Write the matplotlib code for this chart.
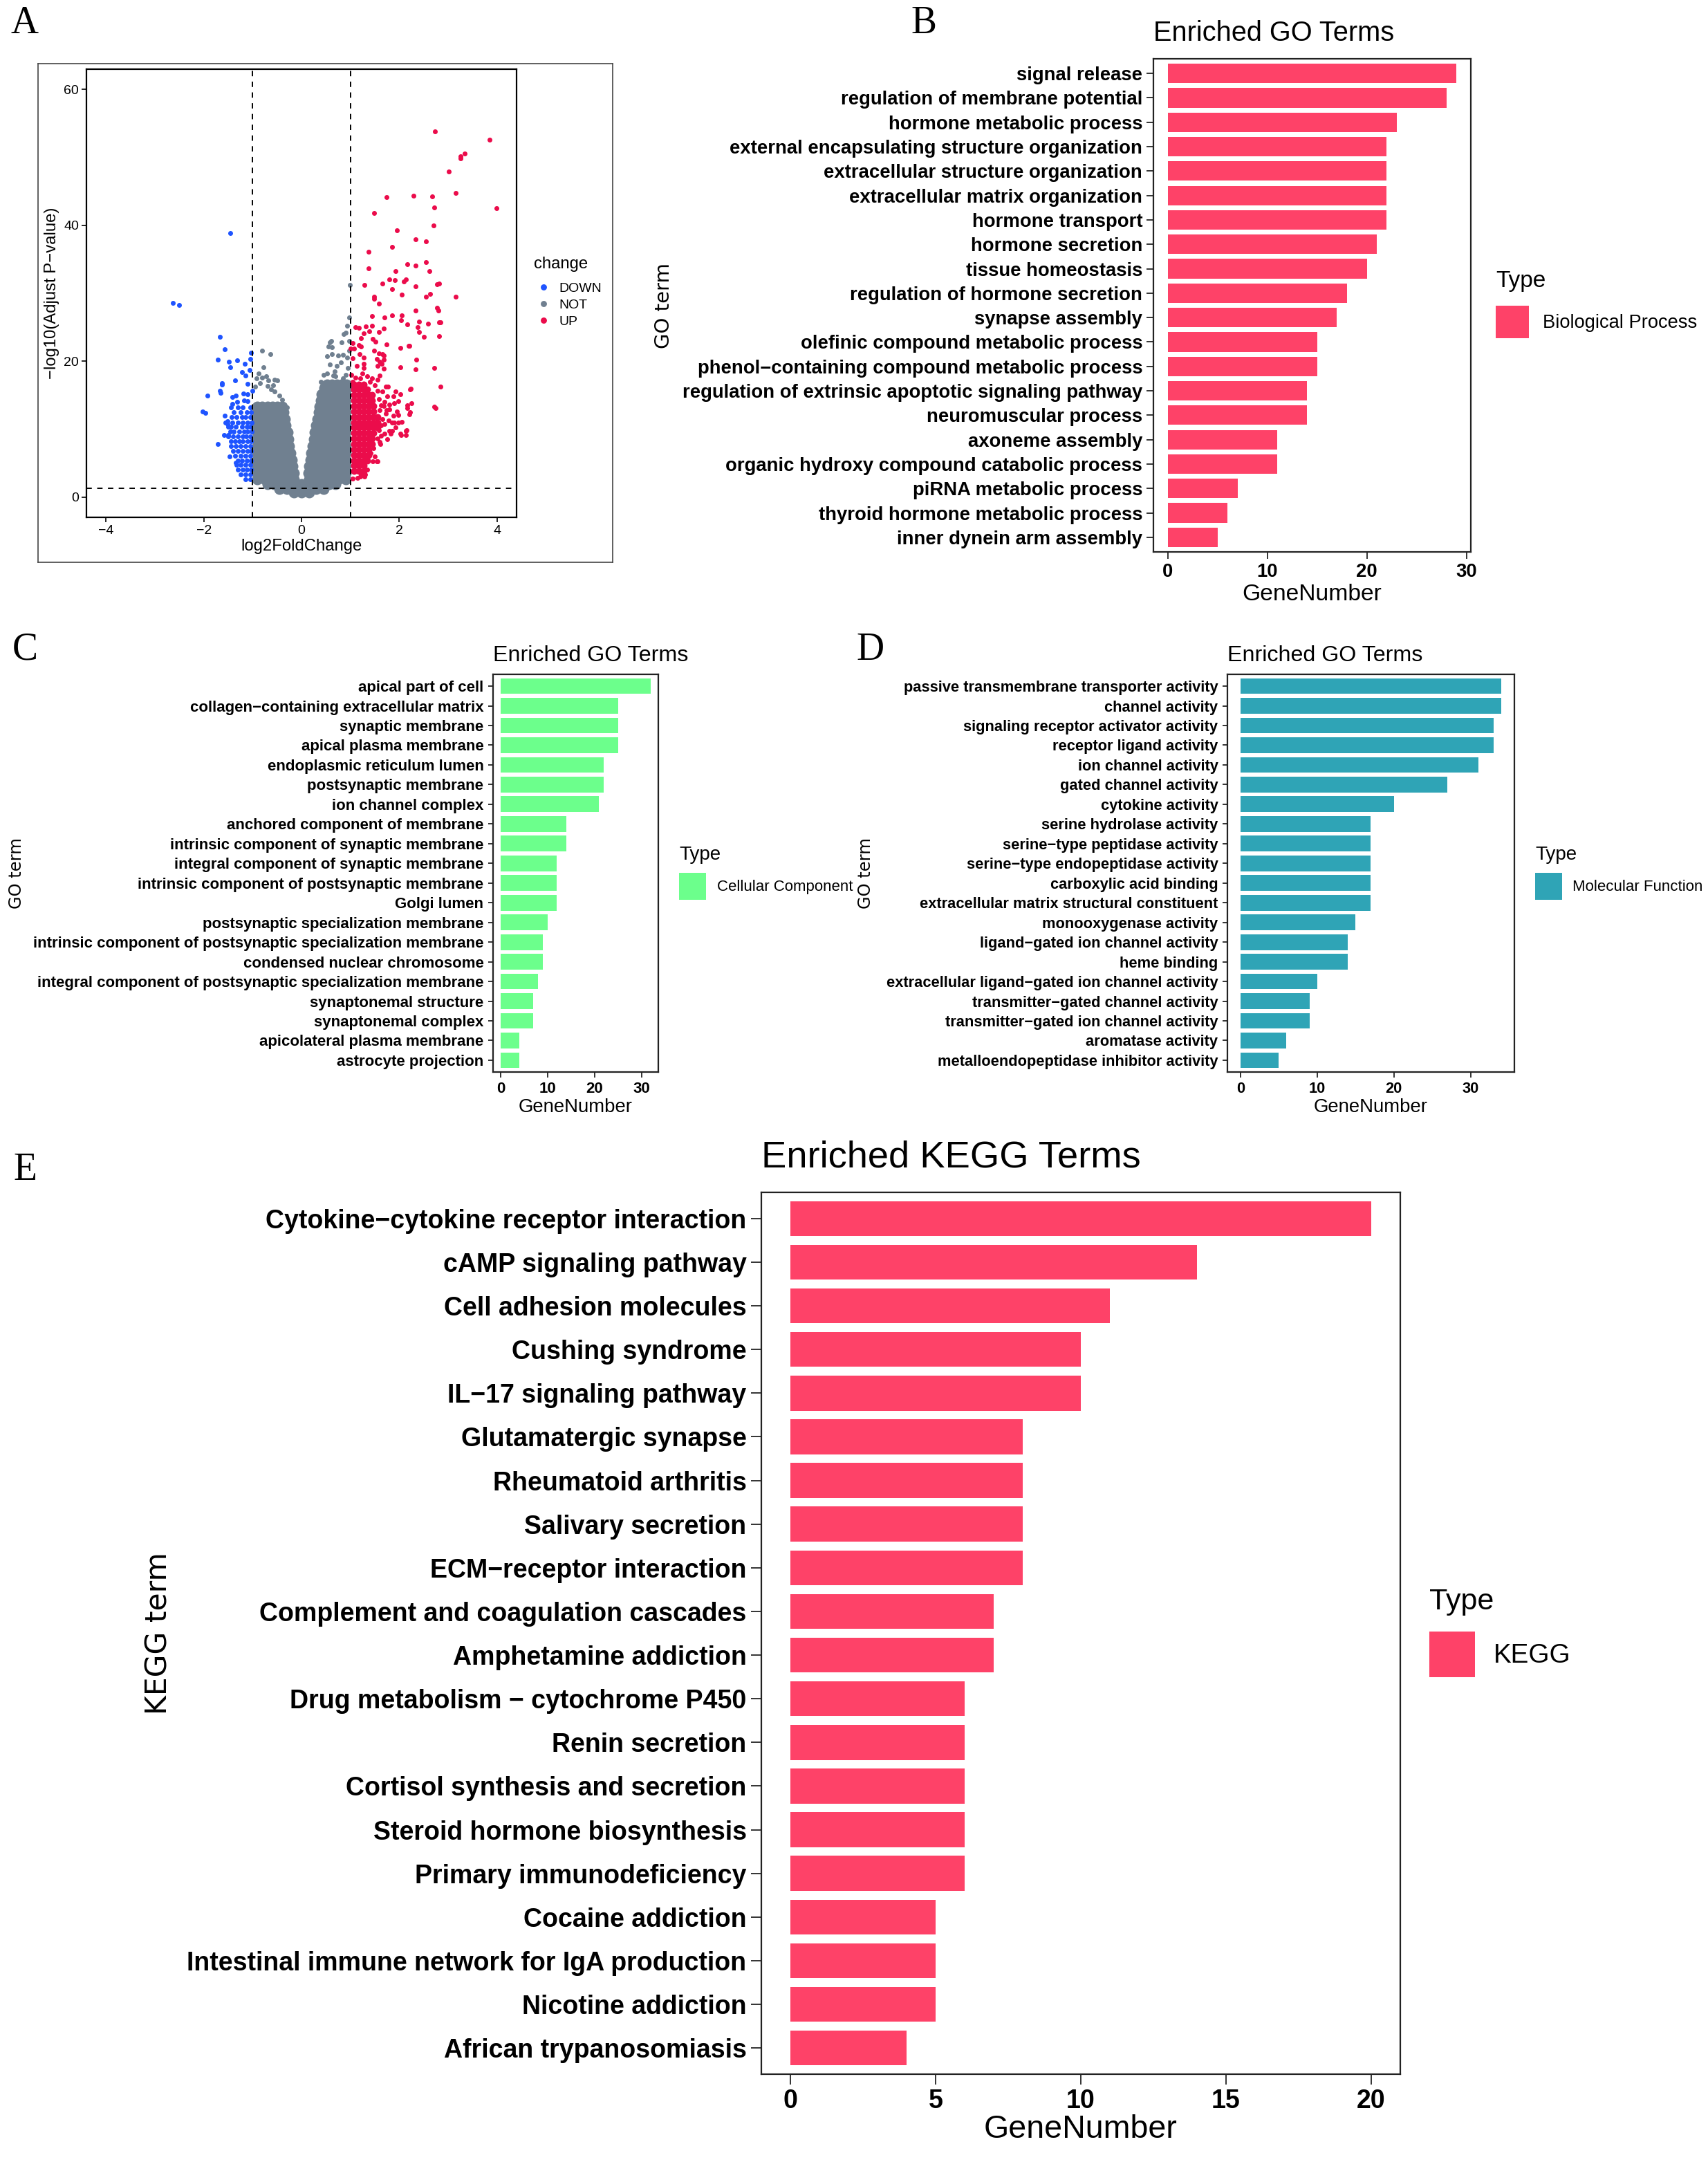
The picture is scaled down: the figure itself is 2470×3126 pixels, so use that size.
import numpy as np
import matplotlib
matplotlib.use("Agg")
import matplotlib.pyplot as plt
from matplotlib.patches import Patch
from matplotlib.lines import Line2D

plt.rcParams['font.family'] = ['Liberation Sans', 'DejaVu Sans']
plt.rcParams['axes.unicode_minus'] = True

# ---------------- DATA ----------------
# Panel A: volcano plot
up_x = [2.73, 3.85, 3.34, 3.25, 3.25, 3.02, 3.16, 1.74, 2.29, 2.68, 2.71, 3.99, 1.48, 2.70, 1.95, 2.34, 2.54,
        1.85, 1.37, 1.37, 2.16, 2.33, 2.54, 2.62, 1.93, 1.79, 1.91, 2.10, 2.13, 1.29, 1.65, 1.85, 2.33, 2.77,
        2.82, 2.05, 1.48, 1.49, 1.58, 2.55, 2.63, 3.16, 2.33, 2.78, 2.80, 1.44, 1.70, 1.86, 2.05, 2.04, 2.16,
        2.40, 2.38, 2.40, 2.59, 2.81, 2.84, 1.11, 1.17, 1.32, 1.45, 1.58, 1.69, 1.39, 1.28, 2.50, 2.81, 1.22,
        1.46, 1.51, 1.74, 1.05, 1.18, 1.21, 2.20, 2.02, 1.00, 1.07, 1.49, 1.58, 1.65, 1.69, 1.28, 1.19, 1.05,
        2.35, 1.54, 1.60, 1.68, 1.64, 1.56, 1.68, 2.02, 2.34, 2.72, 1.13, 1.28, 1.27, 2.85, 2.23, 2.74, 2.16,
        2.25, 2.14, 2.04, 2.14, 2.21, 1.54, 1.61, 1.82, 1.20, 1.29, 1.98, 1.90, 1.85, 2.15, 2.03, 1.60, 1.80,
        1.46, 1.55, 1.22, 2.22, 2.16, 2.72, 2.19, 2.22,
        1.05, 1.15, 1.30, 1.35, 1.42, 1.50, 1.47, 1.55, 1.62, 1.70, 1.75, 1.58, 1.62, 1.70, 1.78, 1.65, 1.88,
        1.72, 1.60, 1.80, 1.62, 1.70, 1.58, 1.75, 1.55, 1.65, 1.72, 1.50, 1.40, 1.45, 1.55, 1.60, 1.35, 1.20,
        1.10, 1.25, 1.02, 1.05, 1.90, 1.95, 1.98, 2.05, 1.92, 1.85, 1.77, 1.93, 2.03, 1.98, 1.88, 1.79, 1.74,
        1.69]
up_y = [53.8, 52.6, 50.6, 50.2, 49.9, 47.9, 44.8, 44.2, 44.4, 44.3, 42.6, 42.5, 41.8, 40.0, 39.3, 37.9, 37.6,
        36.8, 36.1, 33.7, 34.3, 34.1, 34.6, 33.3, 33.3, 32.0, 31.9, 31.7, 32.0, 31.2, 31.4, 30.6, 31.0, 31.3,
        31.4, 29.8, 29.5, 29.2, 28.5, 29.5, 29.9, 29.5, 27.5, 27.9, 27.5, 26.6, 26.4, 26.7, 26.7, 26.0, 25.4,
        25.8, 25.0, 24.3, 25.5, 25.7, 25.7, 25.0, 24.9, 25.1, 25.2, 24.3, 24.8, 24.4, 24.1, 23.6, 23.7, 23.4,
        23.3, 22.9, 22.5, 22.7, 22.4, 22.2, 22.3, 22.0, 21.9, 21.9, 21.5, 21.1, 21.0, 20.8, 20.5, 21.0, 20.4,
        20.2, 20.3, 19.9, 20.2, 19.6, 19.3, 18.9, 19.1, 18.8, 19.0, 19.3, 19.6, 19.0, 16.2, 15.9, 13.1, 13.1,
        13.8, 9.1, 9.1, 9.7, 12.2, 5.2, 7.8, 9.3, 3.0, 3.0, 11.0, 11.0, 11.0, 9.8, 9.3, 8.1, 9.7,
        5.3, 5.3, 3.2, 12.5, 13.5, 13.3, 22.3, 15.8,
        2.7, 2.8, 3.3, 4.0, 6.5, 6.0, 7.2, 8.6, 9.0, 9.3, 8.5, 9.8, 10.5, 10.8, 11.3, 11.5, 12.0,
        12.3, 12.8, 12.9, 13.5, 14.0, 14.4, 14.8, 15.6, 15.5, 16.2, 16.5, 17.0, 17.5, 17.3, 17.9, 17.8, 17.5,
        17.6, 18.2, 18.0, 17.0, 13.8, 12.6, 12.1, 11.1, 10.2, 9.7, 16.3, 15.5, 15.1, 14.1, 14.8, 13.6, 12.8,
        13.4]

# dense part of the UP cloud (rows: y, list of x)
up_core_rows = [
    (3.8, [1.07, 1.17, 1.27]),
    (4.6, [1.07, 1.17, 1.27]),
    (5.4, [1.07, 1.17, 1.27, 1.35]),
    (6.2, [1.07, 1.17, 1.27, 1.37]),
    (7.0, [1.07, 1.17, 1.27, 1.37]),
    (7.8, [1.07, 1.17, 1.27, 1.37, 1.45]),
    (8.6, [1.07, 1.17, 1.27, 1.37, 1.45]),
    (9.4, [1.07, 1.17, 1.27, 1.37, 1.47]),
    (10.2, [1.07, 1.17, 1.27, 1.37, 1.47, 1.55]),
    (11.0, [1.07, 1.17, 1.27, 1.37, 1.47, 1.55]),
    (11.8, [1.07, 1.17, 1.27, 1.37, 1.47, 1.55]),
    (12.6, [1.07, 1.17, 1.27, 1.37, 1.47]),
    (13.4, [1.07, 1.17, 1.27, 1.37, 1.47]),
    (14.2, [1.07, 1.17, 1.27, 1.37, 1.45]),
    (15.0, [1.07, 1.17, 1.27, 1.37, 1.45]),
    (15.8, [1.07, 1.17, 1.27, 1.35]),
    (16.6, [1.07, 1.17, 1.27]),
]

down_x = [-2.63, -2.50, -1.46, -1.67, -1.57, -1.71, -1.48, -1.46, -1.32, -1.16, -1.03, -1.05, -1.06, -1.21,
          -1.15, -1.36, -1.62, -1.10, -1.67, -1.93, -1.00, -1.41, -1.34, -1.19, -1.10, -1.42, -1.31, -1.17,
          -1.10, -2.02, -1.96, -1.57, -1.52, -1.52, -1.71, -1.56, -1.47, -1.35, -1.58, -1.50, -1.66, -1.62]
down_y = [28.6, 28.3, 38.9, 23.6, 21.8, 20.2, 19.9, 19.1, 20.1, 19.6, 21.2, 20.3, 18.7, 18.4,
          17.9, 17.2, 16.8, 16.7, 15.6, 14.9, 15.6, 14.7, 14.9, 15.2, 15.1, 13.7, 14.0, 14.2,
          14.1, 12.6, 12.4, 12.0, 11.2, 10.8, 7.8, 11.0, 6.0, 5.0, 9.1, 9.1, 15.3, 16.6]
down_rows = [
    (13.2, [-1.05, -1.20, -1.30, -1.45]),
    (12.5, [-1.03, -1.12, -1.25, -1.38]),
    (11.8, [-1.05, -1.15, -1.22, -1.33, -1.43]),
    (11.0, [-1.02, -1.10, -1.20, -1.30, -1.42]),
    (10.3, [-1.04, -1.12, -1.22, -1.35, -1.45, -1.50]),
    (9.6, [-1.02, -1.10, -1.18, -1.28, -1.38, -1.46]),
    (8.9, [-1.05, -1.13, -1.20, -1.30, -1.40, -1.50]),
    (8.2, [-1.03, -1.10, -1.20, -1.28, -1.36, -1.45]),
    (7.5, [-1.05, -1.15, -1.25, -1.35, -1.45]),
    (6.8, [-1.03, -1.10, -1.20, -1.30, -1.40]),
    (6.1, [-1.05, -1.15, -1.25, -1.36]),
    (5.4, [-1.03, -1.12, -1.22, -1.30]),
    (4.7, [-1.05, -1.15, -1.25, -1.33]),
    (4.0, [-1.03, -1.12, -1.20, -1.30]),
    (3.3, [-1.05, -1.15, -1.25]),
    (2.6, [-1.05, -1.15]),
]

not_x = [-0.80, -0.63, -0.78, -0.92, -0.88, -0.80, -0.72, -0.68, -0.55, -0.50, -0.58, -0.62, -0.55, -0.45,
         -0.85, -0.95, -0.70, -0.40, -0.35, -0.30,
         0.99, 0.97, 0.55, 0.61, 0.82, 0.87, 0.91, 0.94, 0.58, 0.62, 0.53, 0.62, 0.75, 0.85, 0.93, 0.58,
         0.72, 0.80, 0.68, 0.45, 0.52, 0.90, 0.95, 0.97, 0.97, 0.70, 0.65, 0.85, 0.40]
not_y = [21.5, 21.0, 19.1, 17.5, 18.2, 17.6, 17.8, 17.2, 17.3, 17.2, 16.5, 15.8, 15.5, 14.9,
         16.8, 16.2, 16.4, 14.3, 13.6, 13.2,
         31.2, 26.4, 22.2, 23.0, 22.8, 24.0, 24.2, 25.2, 22.8, 22.1, 20.7, 21.0, 20.8, 20.9, 20.5, 19.5,
         19.3, 19.8, 18.5, 18.0, 18.2, 18.0, 19.0, 21.5, 23.0, 17.8, 17.9, 17.5, 17.0]
# dense part of the NOT cloud (rows: y, list of x)
not_core_rows = [
    (0.7, [-0.15, 0.0, 0.15]),
    (1.2, [-0.45, -0.30, -0.15, 0.0, 0.15, 0.30, 0.45]),
    (1.9, [-0.70, -0.57, -0.45, -0.30, -0.15, 0.0, 0.15, 0.30, 0.45, 0.57, 0.70]),
    (2.6, [-0.90, -0.75, -0.60, -0.45, -0.30, -0.15, 0.15, 0.30, 0.45, 0.60, 0.75, 0.90]),
    (3.5, [-0.90, -0.75, -0.60, -0.45, -0.30, -0.16, 0.14, 0.28, 0.43, 0.58, 0.73, 0.90]),
    (4.5, [-0.90, -0.75, -0.60, -0.45, -0.31, -0.18, 0.16, 0.30, 0.45, 0.60, 0.75, 0.90]),
    (5.5, [-0.90, -0.75, -0.60, -0.46, -0.33, -0.20, 0.18, 0.32, 0.46, 0.61, 0.76, 0.90]),
    (6.5, [-0.90, -0.76, -0.62, -0.48, -0.35, -0.22, 0.20, 0.34, 0.48, 0.62, 0.76, 0.90]),
    (7.5, [-0.90, -0.76, -0.63, -0.50, -0.37, -0.25, 0.23, 0.36, 0.50, 0.63, 0.77, 0.90]),
    (8.5, [-0.90, -0.77, -0.64, -0.51, -0.39, -0.27, 0.25, 0.38, 0.51, 0.64, 0.77, 0.90]),
    (9.5, [-0.90, -0.77, -0.65, -0.53, -0.41, -0.29, 0.27, 0.40, 0.53, 0.65, 0.78, 0.90]),
    (10.5, [-0.90, -0.78, -0.66, -0.55, -0.43, -0.32, 0.30, 0.42, 0.54, 0.66, 0.78, 0.90]),
    (11.5, [-0.90, -0.79, -0.67, -0.56, -0.45, -0.34, 0.32, 0.44, 0.55, 0.67, 0.78, 0.90]),
    (12.5, [-0.90, -0.79, -0.68, -0.58, -0.47, -0.37, 0.35, 0.46, 0.57, 0.68, 0.79, 0.90]),
    (13.3, [-0.90, -0.80, -0.70, -0.60, -0.50, -0.40, 0.37, 0.48, 0.58, 0.69, 0.80, 0.90]),
    (14.2, [0.39, 0.49, 0.59, 0.70, 0.80, 0.90]),
    (15.1, [0.41, 0.51, 0.61, 0.71, 0.81, 0.90]),
    (16.0, [0.47, 0.57, 0.67, 0.77, 0.86, 0.93]),
    (16.6, [0.52, 0.62, 0.72, 0.82, 0.92]),
]
fc_cut = [-1, 1]
p_cut = 1.3

# Panel B: Biological Process
bp_terms = ["signal release", "regulation of membrane potential", "hormone metabolic process",
            "external encapsulating structure organization", "extracellular structure organization",
            "extracellular matrix organization", "hormone transport", "hormone secretion",
            "tissue homeostasis", "regulation of hormone secretion", "synapse assembly",
            "olefinic compound metabolic process", "phenol\u2212containing compound metabolic process",
            "regulation of extrinsic apoptotic signaling pathway", "neuromuscular process",
            "axoneme assembly", "organic hydroxy compound catabolic process", "piRNA metabolic process",
            "thyroid hormone metabolic process", "inner dynein arm assembly"]
bp_counts = [29, 28, 23, 22, 22, 22, 22, 21, 20, 18, 17, 15, 15, 14, 14, 11, 11, 7, 6, 5]

# Panel C: Cellular Component
cc_terms = ["apical part of cell", "collagen\u2212containing extracellular matrix", "synaptic membrane",
            "apical plasma membrane", "endoplasmic reticulum lumen", "postsynaptic membrane",
            "ion channel complex", "anchored component of membrane",
            "intrinsic component of synaptic membrane", "integral component of synaptic membrane",
            "intrinsic component of postsynaptic membrane", "Golgi lumen",
            "postsynaptic specialization membrane",
            "intrinsic component of postsynaptic specialization membrane",
            "condensed nuclear chromosome",
            "integral component of postsynaptic specialization membrane", "synaptonemal structure",
            "synaptonemal complex", "apicolateral plasma membrane", "astrocyte projection"]
cc_counts = [32, 25, 25, 25, 22, 22, 21, 14, 14, 12, 12, 12, 10, 9, 9, 8, 7, 7, 4, 4]

# Panel D: Molecular Function
mf_terms = ["passive transmembrane transporter activity", "channel activity",
            "signaling receptor activator activity", "receptor ligand activity", "ion channel activity",
            "gated channel activity", "cytokine activity", "serine hydrolase activity",
            "serine\u2212type peptidase activity", "serine\u2212type endopeptidase activity",
            "carboxylic acid binding", "extracellular matrix structural constituent",
            "monooxygenase activity", "ligand\u2212gated ion channel activity", "heme binding",
            "extracellular ligand\u2212gated ion channel activity", "transmitter\u2212gated channel activity",
            "transmitter\u2212gated ion channel activity", "aromatase activity",
            "metalloendopeptidase inhibitor activity"]
mf_counts = [34, 34, 33, 33, 31, 27, 20, 17, 17, 17, 17, 17, 15, 14, 14, 10, 9, 9, 6, 5]

# Panel E: KEGG
kegg_terms = ["Cytokine\u2212cytokine receptor interaction", "cAMP signaling pathway",
              "Cell adhesion molecules", "Cushing syndrome", "IL\u221217 signaling pathway",
              "Glutamatergic synapse", "Rheumatoid arthritis", "Salivary secretion",
              "ECM\u2212receptor interaction", "Complement and coagulation cascades",
              "Amphetamine addiction", "Drug metabolism \u2212 cytochrome P450", "Renin secretion",
              "Cortisol synthesis and secretion", "Steroid hormone biosynthesis",
              "Primary immunodeficiency", "Cocaine addiction",
              "Intestinal immune network for IgA production", "Nicotine addiction",
              "African trypanosomiasis"]
kegg_counts = [20, 14, 11, 10, 10, 8, 8, 8, 8, 7, 7, 6, 6, 6, 6, 6, 5, 5, 5, 4]

# ---------------- STYLE ----------------
C_DOWN, C_NOT, C_UP = "#1F54FF", "#708090", "#EB0C4B"
C_BP, C_CC, C_MF, C_KEGG = "#FE4268", "#6CFF8C", "#2FA4B6", "#FE4268"

W, H, DPI = 2470, 3126, 200
fig = plt.figure(figsize=(W / DPI, H / DPI), dpi=DPI)
PX = 72.0 / DPI  # points per pixel


def rect(l, t, r, b):
    return [l / W, 1 - b / H, (r - l) / W, (b - t) / H]


def rows_to_xy(rows):
    xs, ys = [], []
    for yv, xl in rows:
        for xv in xl:
            xs.append(xv)
            ys.append(yv)
    return xs, ys


# ---------------- PANEL A ----------------
bg = fig.add_axes(rect(55, 92, 886, 813), zorder=0)
bg.set_xticks([]); bg.set_yticks([])
for s in bg.spines.values():
    s.set_linewidth(0.6); s.set_color("#444444")

axA = fig.add_axes(rect(125, 100, 747, 748), zorder=1)
ncx, ncy = rows_to_xy(not_core_rows)
ucx, ucy = rows_to_xy(up_core_rows)
dcx, dcy = rows_to_xy(down_rows)
ms_small = (7 * PX) ** 2
axA.scatter(ncx, ncy, s=(16 * PX) ** 2, c=C_NOT, lw=0, zorder=2)
axA.scatter(not_x, not_y, s=ms_small, c=C_NOT, lw=0, zorder=2)
axA.scatter(down_x, down_y, s=ms_small, c=C_DOWN, lw=0, zorder=3)
axA.scatter(dcx, dcy, s=ms_small, c=C_DOWN, lw=0, zorder=3)
axA.scatter(ucx, ucy, s=(10 * PX) ** 2, c=C_UP, lw=0, zorder=3)
axA.scatter(up_x, up_y, s=ms_small, c=C_UP, lw=0, zorder=3)
for v in fc_cut:
    axA.axvline(v, color="black", lw=0.7, ls=(0, (4, 4)), zorder=4)
axA.axhline(p_cut, color="black", lw=0.7, ls=(0, (4, 4)), zorder=4)
axA.set_xlim(-4.4, 4.4)
axA.set_ylim(-3, 63)
axA.set_xticks([-4, -2, 0, 2, 4])
axA.set_yticks([0, 20, 40, 60])
axA.tick_params(labelsize=7, length=2.5, width=0.6, pad=1.5)
for s in axA.spines.values():
    s.set_linewidth(0.8)
axA.set_xlabel("log2FoldChange", fontsize=8.6, labelpad=1)
axA.set_ylabel("\u2212log10(Adjust P\u2212value)", fontsize=8.6, labelpad=2)
hA = [Line2D([], [], ls="none", marker="o", ms=3.2, mfc=c, mec="none") for c in (C_DOWN, C_NOT, C_UP)]
fsA = 7.0
fsA_px = fsA / PX
legA = fig.legend(hA, ["DOWN", "NOT", "UP"], loc="center left",
                  bbox_to_anchor=((786 - 0.4 * fsA_px) / W, 1 - 441 / H), frameon=False, fontsize=fsA,
                  handlelength=0.8, handletextpad=(808 - 786 - 0.4 * fsA_px) / fsA_px,
                  labelspacing=0.33, borderpad=0, borderaxespad=0)
fig.text(772 / W, 1 - 382 / H, "change", fontsize=8.6, ha="left", va="center")


# ---------------- BAR PANELS ----------------
def bar_panel(box, terms, counts, color, xticks, fs_y, fs_title, fs_xlab, fs_ylab,
              ylab, ylab_x, xlab_y, title_pad, tick_len, leg_label, key_box, label_left,
              title_center_y, fs_leg, fs_legt):
    ax = fig.add_axes(rect(*box))
    n = len(terms)
    pos = np.arange(n, 0, -1)
    ax.barh(pos, counts, height=0.8, color=color, lw=0)
    m = max(counts)
    ax.set_xlim(-0.05 * m, 1.05 * m)
    ax.set_ylim(0.4, n + 0.6)
    ax.set_yticks(pos)
    ax.set_yticklabels(terms, fontweight="bold", fontsize=fs_y)
    ax.set_xticks(xticks)
    ax.set_xticklabels([str(t) for t in xticks], fontweight="bold", fontsize=fs_y)
    ax.tick_params(length=tick_len, width=0.7, color="#333333", pad=2.2)
    for s in ax.spines.values():
        s.set_linewidth(0.8); s.set_color("#222222")
    ax.set_title("Enriched KEGG Terms" if ylab == "KEGG term" else "Enriched GO Terms",
                 loc="left", fontsize=fs_title, pad=title_pad)
    ax.set_xlabel("GeneNumber", fontsize=fs_xlab, va="center")
    ax.xaxis.set_label_coords(0.5, xlab_y)
    ax.set_ylabel(ylab, fontsize=fs_ylab, family="DejaVu Sans", va="center", ha="center")
    ax.yaxis.set_label_coords(ylab_x, 0.5)
    # legend: key box given in pixels (left, top, right, bottom)
    kl, kt, kr, kb = key_box
    fs_px = fs_leg / PX
    kw, kh = kr - kl, kb - kt
    hh = (kh / fs_px - 0.245) / 0.65
    kc = (kt + kb) / 2.0
    fig.legend([Patch(facecolor=color, edgecolor="none")], [leg_label],
               loc="center left", bbox_to_anchor=(kl / W, 1 - kc / H), frameon=False,
               fontsize=fs_leg, handlelength=kw / fs_px, handleheight=hh,
               handletextpad=(label_left - kr) / fs_px, borderpad=0, borderaxespad=0)
    fig.text(kl / W, 1 - title_center_y / H, "Type", fontsize=fs_legt, ha="left", va="center")
    return ax


# B
bar_panel((1668, 85, 2127, 798), bp_terms, bp_counts, C_BP, [0, 10, 20, 30],
          fs_y=9.9, fs_title=14.3, fs_xlab=12.1, fs_ylab=10.5,
          ylab="GO term", ylab_x=(960 - 1668) / 459, xlab_y=-62 / 713, title_pad=9.5,
          tick_len=3.5, leg_label="Biological Process", key_box=(2163, 442, 2211, 489),
          label_left=2231, title_center_y=406, fs_leg=9.8, fs_legt=12)
# C
bar_panel((713, 975, 952, 1550), cc_terms, cc_counts, C_CC, [0, 10, 20, 30],
          fs_y=8.0, fs_title=11.6, fs_xlab=9.9, fs_ylab=8.7,
          ylab="GO term", ylab_x=(24 - 713) / 239, xlab_y=-51 / 575, title_pad=6.8,
          tick_len=2.7, leg_label="Cellular Component", key_box=(982, 1262, 1021, 1301),
          label_left=1037, title_center_y=1236, fs_leg=8.0, fs_legt=10)
# D
bar_panel((1775, 975, 2190, 1550), mf_terms, mf_counts, C_MF, [0, 10, 20, 30],
          fs_y=7.9, fs_title=11.6, fs_xlab=9.9, fs_ylab=8.7,
          ylab="GO term", ylab_x=(1252 - 1775) / 415, xlab_y=-51 / 575, title_pad=6.8,
          tick_len=2.7, leg_label="Molecular Function", key_box=(2220, 1262, 2259, 1301),
          label_left=2274, title_center_y=1236, fs_leg=8.0, fs_legt=10)
# E
bar_panel((1101, 1724, 2025, 2999), kegg_terms, kegg_counts, C_KEGG, [0, 5, 10, 15, 20],
          fs_y=13.5, fs_title=19.6, fs_xlab=16.8, fs_ylab=15.3,
          ylab="KEGG term", ylab_x=(230 - 1101) / 924, xlab_y=-80 / 1275, title_pad=13,
          tick_len=5.5, leg_label="KEGG", key_box=(2067, 2359, 2133, 2425),
          label_left=2160, title_center_y=2316, fs_leg=13.9, fs_legt=15.5)

# panel letters
for lab, (x, y) in {"A": (36, 34), "B": (1336, 34), "C": (36, 940), "D": (1258, 940),
                    "E": (36, 1692)}.items():
    fig.text(x / W, 1 - y / H, lab, family="Liberation Serif", fontsize=20, ha="center", va="center")

fig.savefig("out.png", dpi=DPI, facecolor="white")
